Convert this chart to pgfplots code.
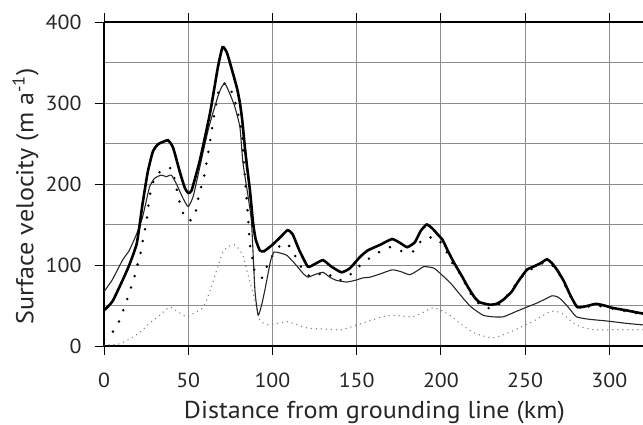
\documentclass[border=0pt]{standalone}
\usepackage{fontspec}
\setmainfont{PT Sans}[FakeStretch=1.07]
\usepackage{pgfplots}
\pgfplotsset{compat=1.18}
\begin{document}
\begin{tikzpicture}
\begin{axis}[
  at={(0,0)}, anchor=south west,
  scale only axis, width=539bp, height=324bp,
  xmin=0, xmax=320, ymin=0, ymax=400,
  axis x line=box, axis y line=left,
  axis line style={-, line width=2bp, black},
  xtick={0,50,...,300}, ytick={0,100,...,400},
  minor ytick={50,150,250,350},
  xticklabel pos=bottom,
  tick align=outside, major tick length=9bp, minor tick length=0pt,
  tick style={black, line width=0.9bp},
  grid=both,
  major grid style={black!45, line width=0.9bp},
  minor grid style={black!45, line width=0.9bp},
  /pgf/number format/assume math mode=true,
  ticklabel style={font=\fontsize{20.5}{20.5}\selectfont, text=black!85},
  xticklabel style={yshift=-14bp},
  yticklabel style={xshift=-10bp},
  clip=true,
]
% gray dotted
\addplot[black!50, line width=1.5bp, dash pattern=on 0pt off 5bp, line cap=round, smooth, tension=0.3] coordinates {
(0,1)(8,2)(13,6)(17,11)(22,18)(27,28)(33,38)(39,48)(44,42)(49,36)(54,41)(59,48)(63,68)(67,94)(70.6,116)(74,123)(77.7,125)(80,120)(82.4,112)(85,92)(88.5,65)(92.5,32)(95,28)(98,26)(103,28)(109,30)(115,26)(121,22)(130,21)(141,20)(150,26)(159,32)(165,36)(171,38)(177,37)(183,36)(189,41)(194.5,47)(198,46)(202,42)(206,37)(210,30)(214,24)(219,17)(224,13)(228,11)(231,10)(236,13)(242,18)(248.5,24)(256,32)(264.5,42)(268,43)(272,40)(276,33)(280.5,26)(286,22)(292,20)(305,20)(320,20)
};
% black dotted
\addplot[black, line width=2.8bp, dash pattern=on 0pt off 12bp, line cap=round, smooth, tension=0.3] coordinates {
(0,8)(3.5,15)(7,21)(10,36)(13,53)(15.4,68)(18,85)(20,101)(22,117)(23.3,134)(25,151)(26,167)(27,184)(29,201)(31,211)(34,216)(37,216)(40,220)(42,205)(44,185)(46,170)(48.5,156)(52.5,156)(55,170)(56.5,189)(59,205)(62,240)(65,280)(67.5,310)(69.4,322)(73,324)(77,308)(79.5,287)(82,263)(82.5,242)(84,200)(85.5,160)(86.6,125)(88,109)(89.6,91)(93.7,84)(97,100)(101,115)(106,127)(109,125)(112,119)(115,104)(119,92)(123,85)(127,88)(132,91)(138,81)(144,84)(150,96)(156,106)(162.5,115)(169.6,122)(173,120)(177,117)(184,117)(189,132)(193,134)(198,133)(203,118)(206,105)(211,90)(215,75)(219,60)(225,48)(232,47)(238,59)(243,72)(248,85)(252,93)(257,98)(262,104)(266,100)(270,90)(275,70)(281,48)(292,50)(302,46)(320,39)
};
% thin solid
\addplot[black!85, line width=1.1bp, smooth, tension=0.3] coordinates {
(0,67)(5,82)(11,106)(15,118)(19.5,139)(23,160)(27,196)(30,207)(34,211)(37,209)(40,211)(43,200)(47,182)(50,172)(53,185)(57,222)(62,268)(67,304)(69.4,318)(71.8,324)(75,310)(77.7,295)(80.7,270)(82.5,226)(85.6,184)(87.6,152)(89.6,69)(91.5,38)(93.5,50)(95.5,69)(99,106)(101,116)(104,115)(108.5,112)(114,100)(118,90)(121,85)(125,88)(130,91)(134,85)(138,81)(144,79)(149,81)(153.6,84)(158,85)(164,89)(171,94)(176,92)(181.5,88)(186,93)(190,98)(196,96)(202,85)(206,77)(210,67)(214,57)(218,48)(225,38)(231,36)(237,36)(244,42)(251,48)(257,53)(262,58)(266,62)(269,61)(271.6,57)(276,47)(280.5,36)(288,33)(298,31)(310,28)(320,26)
};
% thick solid
\addplot[black, line width=2.6bp, smooth, tension=0.3] coordinates {
(0,44)(5,55)(11,81)(15,100)(19.5,127)(23,177)(26,215)(29,240)(32,249)(35,252)(38,254)(41,245)(45,215)(48,195)(50,189)(52,192)(57,230)(63,288)(67.6,344)(70.4,369)(73,362)(76.5,337)(79,318)(80.7,300)(82,280)(83.6,246)(85,220)(86.6,193)(88.5,152)(90,132)(92.5,118)(95,117)(100,125)(105,135)(109,143)(112,138)(116,118)(121,98)(125,101)(130,106)(135,98)(141,91)(146,96)(152,110)(156.6,118)(164,125)(171,132)(176,127)(180,122)(184.5,128)(188,142)(191.6,150)(195,145)(198,138)(201,131)(204,118)(208,102)(212,88)(216,73)(220,60)(223,54)(229,51)(233,52)(237,57)(242,67)(246,80)(251,94)(255,98)(259,102)(263,107)(266,102)(269,94)(273,80)(277,62)(281,48)(286,49)(292,52)(297,50)(302,47)(310,44)(320,40)
};
\end{axis}
\node[anchor=base, font=\fontsize{24.5}{24.5}\selectfont, text=black!85, inner sep=0pt] at (270.5bp,-72bp) {Distance from grounding line (km)};
\node[rotate=90, anchor=base, font=\fontsize{24.5}{24.5}\selectfont, text=black!85, inner sep=0pt] at (-70.5bp,149.5bp) {Surface velocity (m a\textsuperscript{-1})};
\pgfresetboundingbox
\path[use as bounding box] (-104bp,-79bp) rectangle (539bp,346bp);
\end{tikzpicture}
\end{document}
